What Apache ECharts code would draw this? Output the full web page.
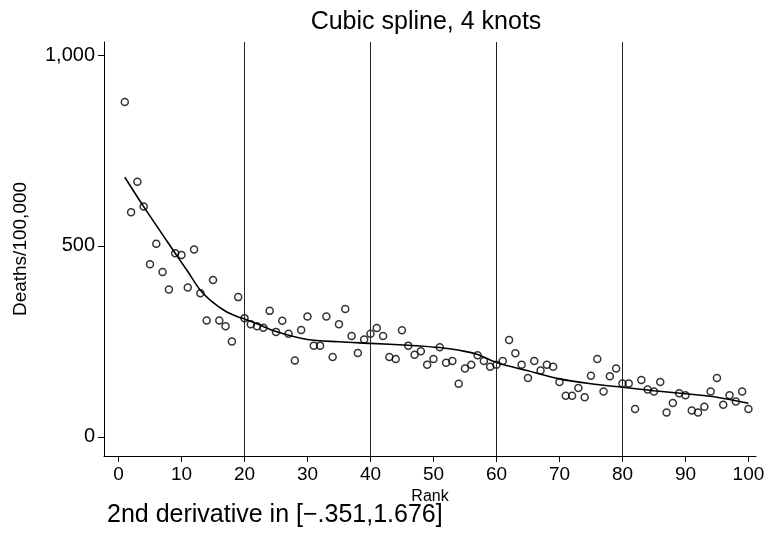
<!doctype html>
<html>
    <head>
        <meta charset="utf-8">
        <title>Cubic spline, 4 knots</title>
        <style>
            html, body { margin: 0; padding: 0; background: #fff; }
            #main { width: 768px; height: 540px; }
        </style>
    </head>
    <body>
        <div id="main"></div>
        <script src="https://cdn.jsdelivr.net/npm/echarts@6/dist/echarts.min.js"></script>
        <script>
            // observed deaths per 100,000, rank 1..100
            var deaths = [
                877, 588, 668, 603, 452, 506, 432, 386, 481, 476,
                391, 491, 376, 305, 411, 305, 290, 250, 366, 311,
                295, 290, 286, 330, 275, 304, 270, 200, 280, 315,
                239, 239, 315, 209, 295, 335, 264, 220, 255, 270,
                285, 264, 209, 204, 279, 239, 215, 224, 189, 204,
                235, 194, 199, 139, 179, 189, 214, 199, 184, 189,
                199, 254, 219, 189, 154, 199, 174, 189, 184, 144,
                108, 108, 128, 104, 160, 204, 119, 159, 179, 140,
                140, 73, 149, 124, 119, 144, 64, 89, 114, 109,
                69, 64, 79, 119, 154, 84, 109, 93, 119, 73
            ];

            // fitted spline
            var fitRank = [1, 4, 9, 11, 13, 15, 17, 19, 20, 22, 25, 30, 35, 40, 46, 51, 55, 57, 60, 65, 70, 75, 80, 85, 90, 95, 100];
            var fitDeaths = [680, 603, 481, 433, 384, 352, 329, 314, 309, 296, 276, 255, 249, 245, 240, 234, 224, 216, 195, 173, 152, 139, 130, 121, 113, 104, 88];

            var knots = [20, 40, 60, 80];
            var xTicks = [0, 10, 20, 30, 40, 50, 60, 70, 80, 90, 100];
            var yTicks = [0, 500, 1000];

            var font = '"Liberation Sans", Arial, Helvetica, sans-serif';

            var chart = echarts.init(document.getElementById('main'));

            var points = deaths.map(function (d, i) {
                return [i + 1, d];
            });
            var fit = fitRank.map(function (r, i) {
                return [r, fitDeaths[i]];
            });

            chart.setOption({
                animation: false,
                title: {
                    text: 'Cubic spline, 4 knots',
                    left: 421,
                    textAlign: 'center',
                    top: 5,
                    textStyle: {
                        fontFamily: font,
                        fontSize: 25,
                        fontWeight: 'normal',
                        color: '#000'
                    }
                },
                graphic: [{
                    type: 'text',
                    left: 107,
                    top: 503,
                    style: {
                        text: '2nd derivative in [\u2212.351,1.676]',
                        font: '25px ' + font,
                        fill: '#000'
                    }
                }],
                grid: {
                    left: 104,
                    right: 12,
                    top: 42,
                    bottom: 84
                },
                xAxis: {
                    type: 'value',
                    min: -2.3,
                    max: 101.2,
                    name: 'Rank',
                    nameLocation: 'middle',
                    nameGap: 32,
                    nameTextStyle: { fontFamily: font, fontSize: 16, color: '#000' },
                    axisLine: { onZero: false, lineStyle: { color: '#000', width: 1 } },
                    axisTick: {
                        customValues: xTicks,
                        length: 6,
                        lineStyle: { color: '#000' }
                    },
                    axisLabel: {
                        customValues: xTicks,
                        fontFamily: font,
                        fontSize: 19,
                        color: '#000',
                        margin: 9
                    },
                    splitLine: { show: false }
                },
                yAxis: {
                    type: 'value',
                    min: -50,
                    max: 1034,
                    name: 'Deaths/100,000',
                    nameLocation: 'middle',
                    nameGap: 74,
                    nameRotate: 90,
                    nameTextStyle: { fontFamily: font, fontSize: 19, color: '#000' },
                    axisLine: { show: true, onZero: false, lineStyle: { color: '#000', width: 1 } },
                    axisTick: {
                        show: true,
                        customValues: yTicks,
                        length: 6,
                        lineStyle: { color: '#000' }
                    },
                    axisLabel: {
                        customValues: yTicks,
                        fontFamily: font,
                        fontSize: 20,
                        color: '#000',
                        margin: 9,
                        formatter: function (v) {
                            return v === 1000 ? '1,000' : String(v);
                        }
                    },
                    splitLine: { show: false }
                },
                series: [
                    {
                        type: 'scatter',
                        data: points,
                        symbol: 'circle',
                        symbolSize: 7,
                        itemStyle: {
                            color: 'rgba(0,0,0,0)',
                            borderColor: '#000',
                            borderWidth: 1.5
                        },
                        markLine: {
                            silent: true,
                            symbol: 'none',
                            label: { show: false },
                            lineStyle: { color: '#222', width: 1, type: 'solid' },
                            data: knots.map(function (k) {
                                return { xAxis: k };
                            })
                        },
                        z: 3
                    },
                    {
                        type: 'line',
                        data: fit,
                        smooth: 0.3,
                        showSymbol: false,
                        lineStyle: { color: '#000', width: 1.6 },
                        z: 4
                    }
                ]
            });

            window.addEventListener('resize', function () {
                chart.resize();
            });
        </script>
    </body>
</html>
